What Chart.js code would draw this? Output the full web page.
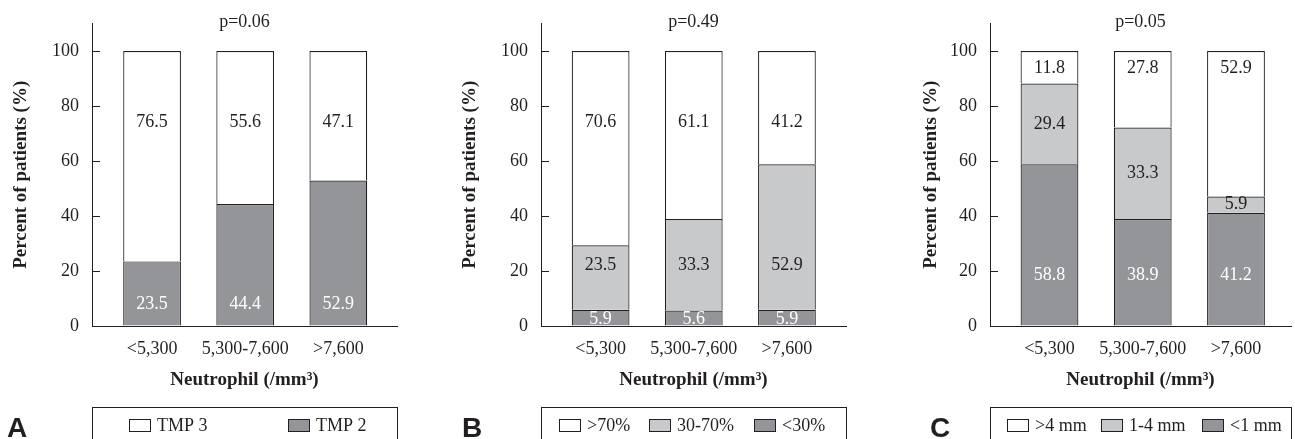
<!DOCTYPE html>
<html>
<head>
<meta charset="utf-8">
<script src="https://cdn.jsdelivr.net/npm/chart.js@4/dist/chart.umd.min.js"></script>
<style>
html, body { margin: 0; padding: 0; background: #ffffff; width: 1295px; height: 439px; overflow: hidden; }
.panel { position: absolute; top: 0; height: 439px; }
.letter { position: absolute; font-family: 'Liberation Sans', Arial, sans-serif; font-weight: bold; font-size: 28px; line-height: 28px; color: #231f20; }
</style>
</head>
<body>
<div class="panel" style="left:0px;width:420px"><canvas id="chartA"></canvas></div>
<div class="panel" style="left:449px;width:420px"><canvas id="chartB"></canvas></div>
<div class="panel" style="left:898px;width:397px"><canvas id="chartC"></canvas></div>
<div class="letter" style="left:7px;top:414px">A</div>
<div class="letter" style="left:462px;top:414px">B</div>
<div class="letter" style="left:930px;top:414px">C</div>
<script>
// ---------- data ----------
const neutrophilGroups = ['<5,300', '5,300-7,600', '>7,600'];
const yTickValues = [0, 20, 40, 60, 80, 100];
const pValues = ['p=0.06', 'p=0.49', 'p=0.05'];

// Panel A (TMP)
const tmp2 = [23.5, 44.4, 52.9];
const tmp3 = [76.5, 55.6, 47.1];

// Panel B
const bUnder30 = [5.9, 5.6, 5.9];
const b30to70 = [23.5, 33.3, 52.9];
const bOver70 = [70.6, 61.1, 41.2];

// Panel C
const cUnder1 = [58.8, 38.9, 41.2];
const c1to4 = [29.4, 33.3, 5.9];
const cOver4 = [11.8, 27.8, 52.9];

// ---------- style ----------
const INK = '#231f20';
const WHITE = '#ffffff';
const LIGHT = '#c8c9cb';
const DARK = '#939598';
const SERIF = "'Liberation Serif', 'Times New Roman', serif";

Chart.defaults.font.family = SERIF;
Chart.defaults.font.size = 18;
Chart.defaults.color = INK;

const toPoints = arr => arr.map((v, i) => ({ x: i, y: v }));

const valueLabels = {
  id: 'valueLabels',
  afterDatasetsDraw(chart) {
    const { ctx } = chart;
    const yScale = chart.scales.y;
    chart.data.datasets.forEach((ds, di) => {
      const meta = chart.getDatasetMeta(di);
      meta.data.forEach((bar, i) => {
        const v = ds.data[i].y;
        const p = bar.getProps(['x', 'y', 'base'], true);
        const at = ds.labelAt;
        const py = (typeof at === 'number') ? yScale.getPixelForValue(at) : (p.y + p.base) / 2;
        ctx.save();
        ctx.font = '18px ' + SERIF;
        ctx.fillStyle = ds.labelColor;
        ctx.textAlign = 'center';
        ctx.textBaseline = 'middle';
        ctx.fillText(v.toFixed(1), p.x, py);
        ctx.restore();
      });
    });
  }
};

const boxLegend = {
  id: 'boxLegend',
  afterDraw(chart, args, opts) {
    const { ctx, chartArea } = chart;
    const left = chartArea.left, right = chartArea.right;
    ctx.save();
    ctx.strokeStyle = INK;
    ctx.lineWidth = 1;
    ctx.strokeRect(Math.round(left) + 0.5, opts.top + 0.5, Math.round(right - left), chart.height - opts.top + 10);
    const items = chart.data.datasets.slice().reverse();
    items.forEach((ds, k) => {
      const x = Math.round(left + opts.offsets[k]);
      ctx.fillStyle = ds.backgroundColor;
      ctx.fillRect(x, opts.boxTop, 22, 13);
      ctx.strokeStyle = INK;
      ctx.strokeRect(x + 0.5, opts.boxTop + 0.5, 21, 12);
      ctx.fillStyle = INK;
      ctx.font = '18px ' + SERIF;
      ctx.textAlign = 'left';
      ctx.textBaseline = 'middle';
      ctx.fillText(ds.label, x + 22 + 6, opts.boxTop + 7);
    });
    ctx.restore();
  }
};

function makeChart(id, datasets, pText, cfg) {
  return new Chart(document.getElementById(id), {
    type: 'bar',
    data: { datasets },
    options: {
      responsive: true,
      maintainAspectRatio: false,
      animation: false,
      layout: { padding: { left: 0, right: cfg.padRight, top: 0, bottom: 43 } },
      datasets: { bar: {
        categoryPercentage: 1, barPercentage: 0.62, borderColor: INK,
        borderWidth: { top: 1.2, left: 1.2, right: 1.2, bottom: 0 }, borderSkipped: false
      } },
      plugins: {
        legend: { display: false },
        tooltip: { enabled: false },
        title: {
          display: true, text: pText, fullSize: false, color: INK,
          font: { family: SERIF, size: 18, weight: 'normal' },
          padding: { top: 11, bottom: -9 }
        },
        boxLegend: { top: 407, boxTop: 419, offsets: cfg.legendOffsets }
      },
      scales: {
        x: {
          type: 'linear', stacked: true, offset: false,
          min: cfg.xMin, max: cfg.xMax,
          grid: { display: false },
          border: { display: true, color: INK, width: 1 },
          afterBuildTicks: s => { s.ticks = neutrophilGroups.map((_, i) => ({ value: i })); },
          ticks: { padding: 4, color: INK, font: { size: 18 }, callback: v => neutrophilGroups[v] },
          title: { display: true, text: 'Neutrophil (/mm³)', color: INK, font: { family: SERIF, size: 19, weight: 'bold' }, padding: { top: 0, bottom: 5 } },
          afterFit: s => { s.height = 70; s.paddingLeft = 0; s.paddingRight = 0; }
        },
        y: {
          stacked: true, min: 0, max: 110,
          afterBuildTicks: s => { s.ticks = yTickValues.map(v => ({ value: v })); },
          ticks: { padding: 21, color: INK, font: { size: 18 } },
          grid: { display: true, drawOnChartArea: false, drawTicks: true, tickLength: -8, color: INK, lineWidth: 1 },
          border: { display: true, color: INK, width: 1 },
          title: { display: true, text: 'Percent of patients (%)', color: INK, font: { family: SERIF, size: 19, weight: 'bold' }, padding: { top: cfg.yTitlePad, bottom: 0 } },
          afterFit: s => { s.width = 92; s.paddingTop = 0; s.paddingBottom = 0; }
        }
      }
    },
    plugins: [valueLabels, boxLegend]
  });
}

makeChart('chartA', [
  { label: 'TMP 2', data: toPoints(tmp2), backgroundColor: DARK, labelColor: WHITE, labelAt: 8 },
  { label: 'TMP 3', data: toPoints(tmp3), backgroundColor: WHITE, labelColor: INK, labelAt: 74 }
], pValues[0], { xMin: -0.645, xMax: 2.63, padRight: 23, yTitlePad: 10, legendOffsets: [37, 196] });

makeChart('chartB', [
  { label: '<30%', data: toPoints(bUnder30), backgroundColor: DARK, labelColor: WHITE, labelAt: 2.4 },
  { label: '30-70%', data: toPoints(b30to70), backgroundColor: LIGHT, labelColor: INK, labelAt: 22.2 },
  { label: '>70%', data: toPoints(bOver70), backgroundColor: WHITE, labelColor: INK, labelAt: 74 }
], pValues[1], { xMin: -0.64, xMax: 2.634, padRight: 23, yTitlePad: 10, legendOffsets: [18, 108, 213] });

makeChart('chartC', [
  { label: '<1 mm', data: toPoints(cUnder1), backgroundColor: DARK, labelColor: WHITE, labelAt: 18.6 },
  { label: '1-4 mm', data: toPoints(c1to4), backgroundColor: LIGHT, labelColor: INK },
  { label: '>4 mm', data: toPoints(cOver4), backgroundColor: WHITE, labelColor: INK, labelAt: 93.9 }
], pValues[2], { xMin: -0.638, xMax: 2.59, padRight: 4, yTitlePad: 22, legendOffsets: [17, 111, 212] });
</script>
</body>
</html>
